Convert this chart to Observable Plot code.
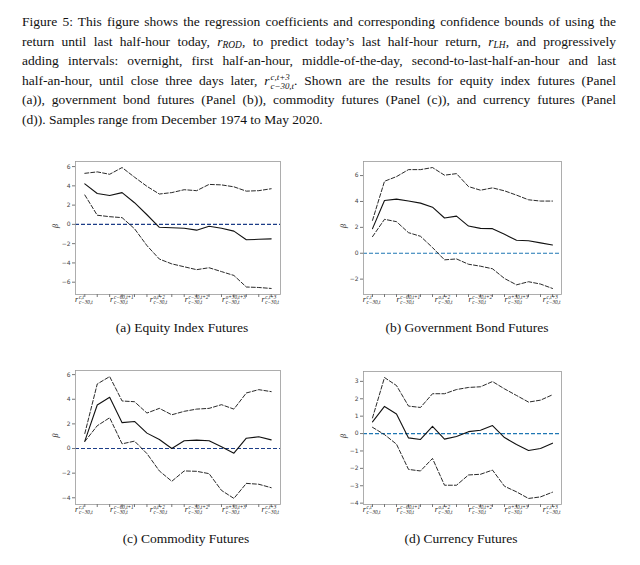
<!DOCTYPE html>
<html><head><meta charset="utf-8">
<script src="https://cdn.jsdelivr.net/npm/d3@7"></script>
<script src="https://cdn.jsdelivr.net/npm/@observablehq/plot@0.6"></script>
<style>
html,body{margin:0;padding:0;background:#fff;}
body{width:640px;height:565px;position:relative;overflow:hidden;font-family:"Liberation Serif",serif;color:#111;}
#caption{position:absolute;left:22px;top:12px;width:594px;font-size:13.5px;line-height:19.6px;}
#caption .ln{text-align:justify;text-align-last:justify;height:19.6px;}
#caption .ln.last{text-align:left;text-align-last:left;}
#caption i{font-style:italic;}
#caption sub{font-size:70%;line-height:0;vertical-align:-0.25em;font-style:italic;}
.ss{display:inline-block;vertical-align:-0.5em;line-height:1.0em;font-size:66%;font-style:italic;margin-left:1px;}
.ss span{display:block;}
.panel{position:absolute;}
.sub-cap{position:absolute;font-size:13.5px;transform:translateX(-50%);white-space:nowrap;}
</style>
</head><body>
<div id="caption">
<div class="ln">Figure 5: This figure shows the regression coefficients and corresponding confidence bounds of using the</div>
<div class="ln">return until last half-hour today, <i>r</i><sub>ROD</sub>, to predict today’s last half-hour return, <i>r</i><sub>LH</sub>, and progressively</div>
<div class="ln">adding intervals: overnight, first half-an-hour, middle-of-the-day, second-to-last-half-an-hour and last</div>
<div class="ln">half-an-hour, until close three days later, <i>r</i><span class="ss"><span>c,t+3</span><span>c−30,t</span></span>. Shown are the results for equity index futures (Panel</div>
<div class="ln">(a)), government bond futures (Panel (b)), commodity futures (Panel (c)), and currency futures (Panel</div>
<div class="ln last">(d)). Samples range from December 1974 to May 2020.</div>
</div>
<div id="pa" class="panel"></div>
<div id="pb" class="panel"></div>
<div id="pc" class="panel"></div>
<div id="pd" class="panel"></div>
<div class="sub-cap" style="left:182px;top:320px;">(a) Equity Index Futures</div>
<div class="sub-cap" style="left:467px;top:320px;">(b) Government Bond Futures</div>
<div class="sub-cap" style="left:186px;top:531px;">(c) Commodity Futures</div>
<div class="sub-cap" style="left:461px;top:531px;">(d) Currency Futures</div>
<script>
// Tick labels: r^{sup}_{sub} shown every third interval
const labelIdx = [0, 3, 6, 9, 12, 15];
const xSup = ["c,t", "c−60,t+1", "o,t+2", "c−30,t+2", "o+30,t+3", "c,t+3"];
const xSub = ["c−30,t", "c−30,t", "c−30,t", "c−30,t", "c−30,t", "c−30,t"];

// (a) Equity index futures
const equityBeta  = [4.2, 3.2, 3.0, 3.3, 2.25, 1.0, -0.3, -0.35, -0.4, -0.6, -0.2, -0.4, -0.7, -1.6, -1.55, -1.5];
const equityUpper = [5.3, 5.45, 5.2, 5.9, 4.9, 3.95, 3.15, 3.3, 3.6, 3.5, 4.15, 4.1, 3.9, 3.45, 3.5, 3.7];
const equityLower = [3.05, 0.95, 0.8, 0.7, -0.45, -2.2, -3.6, -4.1, -4.4, -4.7, -4.5, -4.9, -5.3, -6.5, -6.55, -6.65];
const equityYTicks = [-6, -4, -2, 0, 2, 4, 6];

// (b) Government bond futures
const bondBeta  = [1.9, 4.08, 4.18, 4.03, 3.87, 3.56, 2.72, 2.87, 2.1, 1.92, 1.9, 1.46, 1.0, 0.97, 0.8, 0.64];
const bondUpper = [2.54, 5.56, 5.92, 6.46, 6.46, 6.62, 6.03, 6.15, 5.15, 4.87, 5.05, 4.82, 4.49, 4.13, 4.03, 4.03];
const bondLower = [1.28, 2.62, 2.44, 1.59, 1.31, 0.44, -0.51, -0.44, -0.85, -1.0, -1.2, -1.95, -2.44, -2.2, -2.38, -2.72];
const bondYTicks = [-2, 0, 2, 4, 6];

// (c) Commodity futures
const commBeta  = [0.6, 3.53, 4.16, 2.1, 2.2, 1.25, 0.73, 0.0, 0.63, 0.68, 0.63, 0.14, -0.38, 0.84, 0.95, 0.7];
const commUpper = [1.22, 5.24, 5.84, 3.86, 3.8, 2.88, 3.26, 2.74, 3.02, 3.2, 3.26, 3.56, 3.2, 4.51, 4.78, 4.62];
const commLower = [0.57, 1.85, 2.5, 0.38, 0.6, -0.41, -1.82, -2.66, -1.82, -1.85, -2.04, -3.4, -4.05, -2.83, -2.9, -3.18];
const commYTicks = [-4, -2, 0, 2, 4, 6];

// (d) Currency futures
const currBeta  = [0.67, 1.56, 1.12, -0.25, -0.34, 0.42, -0.32, -0.17, 0.11, 0.19, 0.46, -0.23, -0.63, -0.97, -0.86, -0.55];
const currUpper = [0.9, 3.22, 2.76, 1.58, 1.5, 2.29, 2.29, 2.53, 2.65, 2.69, 2.99, 2.57, 2.19, 1.81, 1.92, 2.23];
const currLower = [0.36, -0.06, -0.61, -2.06, -2.15, -1.43, -2.97, -2.97, -2.38, -2.34, -2.1, -3.03, -3.35, -3.73, -3.64, -3.37];
const currYTicks = [-4, -3, -2, -1, 0, 1, 2, 3];

function panel(el, {beta, upper, lower, yTicks, zeroColor, left, top, fw, fh}) {
  const ml = 40, mr = 14, mt = 6, mb = 22;
  const n = beta.length - 1;
  const idx = d3.range(beta.length);
  const all = [...beta, ...upper, ...lower];
  const lo = d3.min(all), hi = d3.max(all), pad = (hi - lo) * 0.05;
  const labelMarks = labelIdx.flatMap((t, k) => {
    const w = 3.6 + 2.3 * Math.max(xSup[k].length, xSub[k].length);
    const x0 = -w / 2 - 1;
    const common = {x: d => d, frameAnchor: "bottom", fontFamily: "Liberation Serif", fontStyle: "italic", fill: "#222", textAnchor: "start"};
    return [
      Plot.text([t], {...common, text: () => "r", fontSize: 8, dx: x0, dy: 7.5}),
      Plot.text([t], {...common, text: () => xSup[k], fontSize: 5.2, dx: x0 + 3.8, dy: 4.5}),
      Plot.text([t], {...common, text: () => xSub[k], fontSize: 5.2, dx: x0 + 3.8, dy: 9.8})
    ];
  });
  const p = Plot.plot({
    width: fw + ml + mr, height: fh + mt + mb,
    marginLeft: ml, marginRight: mr, marginTop: mt, marginBottom: mb,
    style: {background: "transparent", fontFamily: "DejaVu Sans", fontSize: "6px", overflow: "visible"},
    x: {domain: [-0.05 * n, n * 1.05], label: null},
    y: {domain: [lo - pad, hi + pad], label: null},
    marks: [
      Plot.ruleY([0], {stroke: zeroColor, strokeWidth: 1.2, strokeDasharray: "4,2"}),
      Plot.line(idx, {x: i => i, y: i => upper[i], stroke: "#111", strokeWidth: 0.9, strokeDasharray: "4,2"}),
      Plot.line(idx, {x: i => i, y: i => lower[i], stroke: "#111", strokeWidth: 0.9, strokeDasharray: "4,2"}),
      Plot.line(idx, {x: i => i, y: i => beta[i], stroke: "#111", strokeWidth: 1.1}),
      Plot.frame({stroke: "#999", strokeWidth: 0.8}),
      Plot.axisX({ticks: idx, tickSize: 3, tickFormat: () => "", stroke: "#777", label: null}),
      Plot.axisY({ticks: yTicks, tickSize: 3, tickPadding: 2, stroke: "#777", fill: "#444", label: null}),
      Plot.text(["β"], {text: d => d, frameAnchor: "left", dx: -20, rotate: -90, fontSize: 8, fontFamily: "Liberation Serif", fontStyle: "italic", fill: "#333"}),
      ...labelMarks
    ]
  });
  el.style.left = (left - ml) + "px";
  el.style.top = (top - mt) + "px";
  el.appendChild(p);
}

panel(document.getElementById("pa"), {beta: equityBeta, upper: equityUpper, lower: equityLower, yTicks: equityYTicks, zeroColor: "#1c3d87", left: 75, top: 161, fw: 205, fh: 133});
panel(document.getElementById("pb"), {beta: bondBeta, upper: bondUpper, lower: bondLower, yTicks: bondYTicks, zeroColor: "#1f77b4", left: 363, top: 161, fw: 198, fh: 133});
panel(document.getElementById("pc"), {beta: commBeta, upper: commUpper, lower: commLower, yTicks: commYTicks, zeroColor: "#1c3d87", left: 75, top: 370, fw: 205, fh: 134});
panel(document.getElementById("pd"), {beta: currBeta, upper: currUpper, lower: currLower, yTicks: currYTicks, zeroColor: "#1f77b4", left: 363, top: 371, fw: 198, fh: 133});
</script>
</body></html>
